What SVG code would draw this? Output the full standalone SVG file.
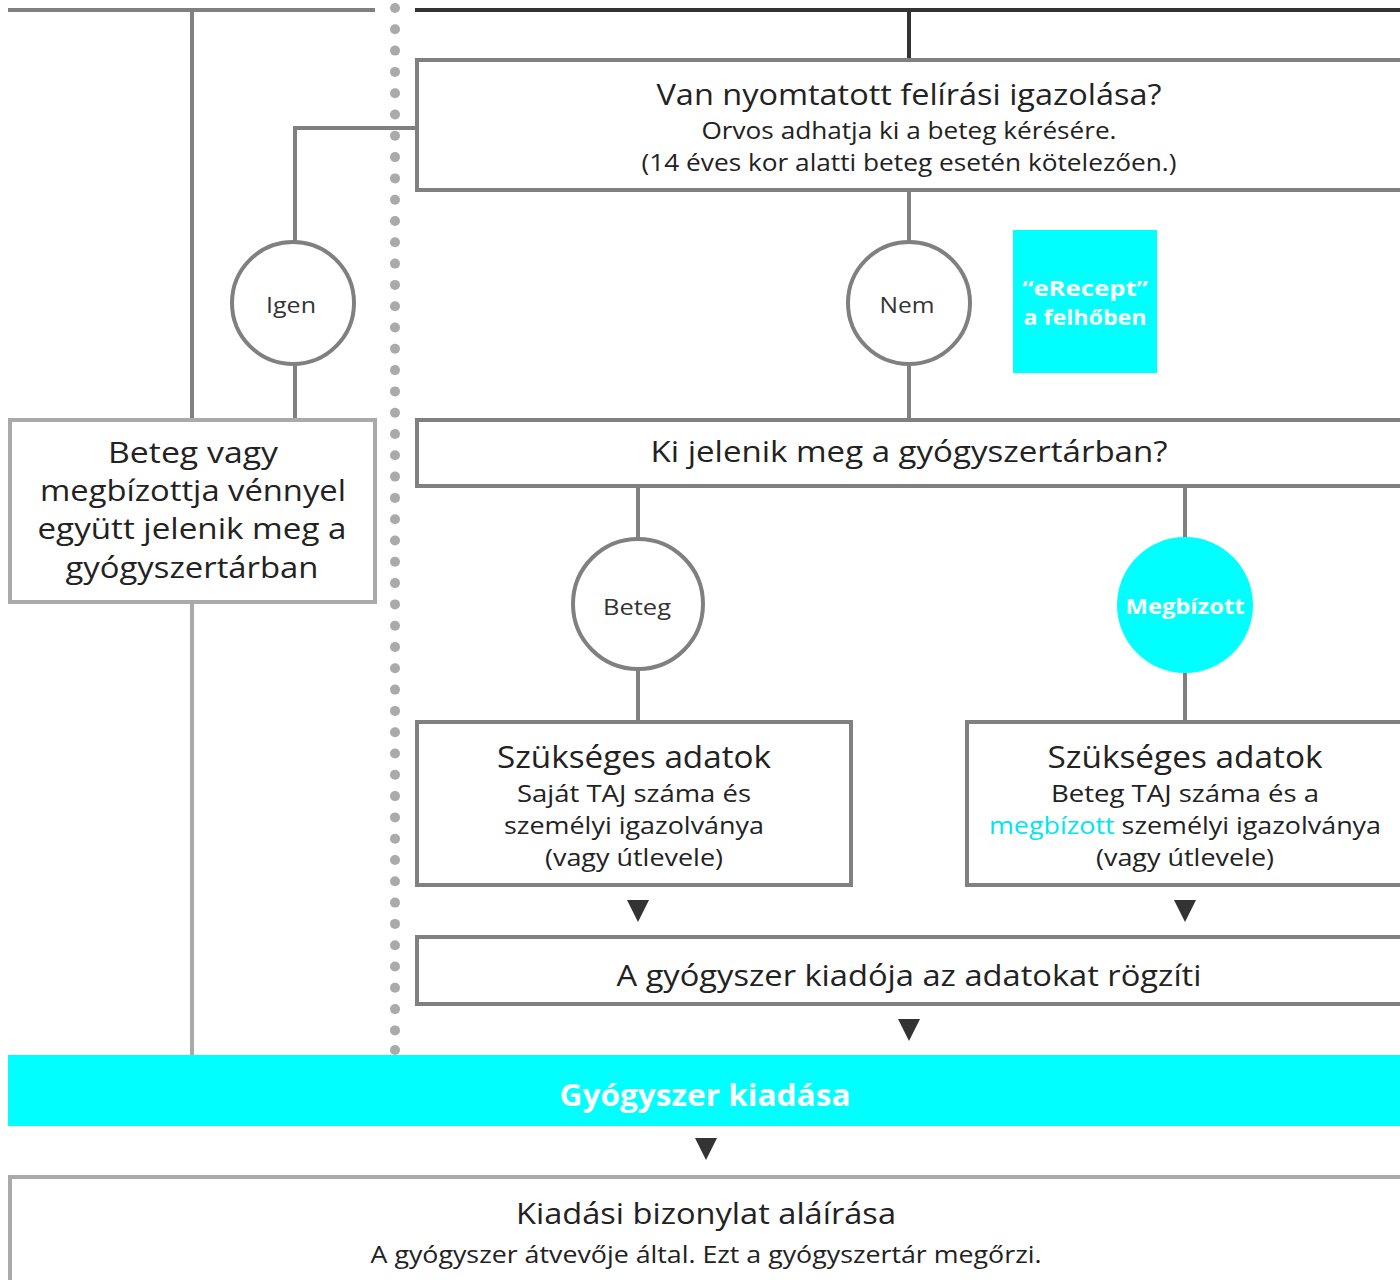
<svg xmlns="http://www.w3.org/2000/svg" width="1400" height="1280" viewBox="0 0 1400 1280">
<defs>
<style>
.box{fill:#fff;stroke:#808080;stroke-width:4}
.boxl{fill:#fff;stroke:#aaa;stroke-width:4}
.ln{stroke:#808080;stroke-width:4;fill:none}
.lnl{stroke:#aaa;stroke-width:4;fill:none}
.lnd{stroke:#333;stroke-width:4;fill:none}
.circ{fill:#fff;stroke:#808080;stroke-width:4}
.t{font-family:"Open Sans","Noto Sans",sans-serif;fill:#222;text-anchor:middle}
.h{font-size:29px;font-weight:500}
.s{font-size:23px}
.c{font-size:22px;fill:#333}
.w{font-family:"Open Sans","Noto Sans",sans-serif;fill:#fff;font-weight:bold;text-anchor:middle}
.tri{fill:#333}
.dot{fill:#aaa}
</style>
</defs>
<rect x="0" y="0" width="1400" height="1280" fill="#fff"/>
<g id="connectors">
<line class="ln" x1="8" y1="10" x2="375" y2="10"/>
<line class="lnd" x1="415" y1="10" x2="1400" y2="10"/>
<line class="ln" x1="192" y1="10" x2="192" y2="420"/>
<line class="lnl" x1="192" y1="602" x2="192" y2="1055"/>
<line class="lnd" x1="909" y1="10" x2="909" y2="60"/>
<polyline class="ln" points="417,128 295,128 295,242"/>
<line class="ln" x1="295" y1="364" x2="295" y2="420"/>
<line class="ln" x1="909" y1="190" x2="909" y2="242"/>
<line class="ln" x1="909" y1="364" x2="909" y2="420"/>
<line class="ln" x1="638" y1="486" x2="638" y2="540"/>
<line class="ln" x1="638" y1="670" x2="638" y2="722"/>
<line class="ln" x1="1185" y1="486" x2="1185" y2="540"/>
<line class="ln" x1="1185" y1="670" x2="1185" y2="722"/>
<polygon class="tri" points="627,900 649,900 638,922"/>
<polygon class="tri" points="1174,900 1196,900 1185,922"/>
<polygon class="tri" points="898,1019 920,1019 909,1041"/>
<polygon class="tri" points="695,1138 717,1138 706,1160"/>
<g id="dots">
<circle class="dot" cx="395" cy="8" r="5"/><circle class="dot" cx="395" cy="29.3" r="5"/><circle class="dot" cx="395" cy="50.6" r="5"/><circle class="dot" cx="395" cy="71.9" r="5"/><circle class="dot" cx="395" cy="93.2" r="5"/><circle class="dot" cx="395" cy="114.5" r="5"/><circle class="dot" cx="395" cy="135.8" r="5"/><circle class="dot" cx="395" cy="157.1" r="5"/><circle class="dot" cx="395" cy="178.4" r="5"/><circle class="dot" cx="395" cy="199.7" r="5"/><circle class="dot" cx="395" cy="221" r="5"/><circle class="dot" cx="395" cy="242.3" r="5"/><circle class="dot" cx="395" cy="263.6" r="5"/><circle class="dot" cx="395" cy="284.9" r="5"/><circle class="dot" cx="395" cy="306.2" r="5"/><circle class="dot" cx="395" cy="327.5" r="5"/><circle class="dot" cx="395" cy="348.8" r="5"/><circle class="dot" cx="395" cy="370.1" r="5"/><circle class="dot" cx="395" cy="391.4" r="5"/><circle class="dot" cx="395" cy="412.7" r="5"/><circle class="dot" cx="395" cy="434" r="5"/><circle class="dot" cx="395" cy="455.3" r="5"/><circle class="dot" cx="395" cy="476.6" r="5"/><circle class="dot" cx="395" cy="497.9" r="5"/><circle class="dot" cx="395" cy="519.2" r="5"/><circle class="dot" cx="395" cy="540.5" r="5"/><circle class="dot" cx="395" cy="561.8" r="5"/><circle class="dot" cx="395" cy="583.1" r="5"/><circle class="dot" cx="395" cy="604.4" r="5"/><circle class="dot" cx="395" cy="625.7" r="5"/><circle class="dot" cx="395" cy="647" r="5"/><circle class="dot" cx="395" cy="668.3" r="5"/><circle class="dot" cx="395" cy="689.6" r="5"/><circle class="dot" cx="395" cy="710.9" r="5"/><circle class="dot" cx="395" cy="732.2" r="5"/><circle class="dot" cx="395" cy="753.5" r="5"/><circle class="dot" cx="395" cy="774.8" r="5"/><circle class="dot" cx="395" cy="796.1" r="5"/><circle class="dot" cx="395" cy="817.4" r="5"/><circle class="dot" cx="395" cy="838.7" r="5"/><circle class="dot" cx="395" cy="860" r="5"/><circle class="dot" cx="395" cy="881.3" r="5"/><circle class="dot" cx="395" cy="902.6" r="5"/><circle class="dot" cx="395" cy="923.9" r="5"/><circle class="dot" cx="395" cy="945.2" r="5"/><circle class="dot" cx="395" cy="966.5" r="5"/><circle class="dot" cx="395" cy="987.8" r="5"/><circle class="dot" cx="395" cy="1009.1" r="5"/><circle class="dot" cx="395" cy="1030.4" r="5"/><circle class="dot" cx="395" cy="1050" r="5"/>
</g>
</g>
<g id="q1">
<rect class="box" x="417" y="60" width="990" height="130"/>
<text class="t h" x="909" y="105" textLength="505" lengthAdjust="spacingAndGlyphs">Van nyomtatott felírási igazolása?</text>
<text class="t s" x="909" y="139" textLength="415" lengthAdjust="spacingAndGlyphs">Orvos adhatja ki a beteg kérésére.</text>
<text class="t s" x="909" y="171" textLength="535" lengthAdjust="spacingAndGlyphs">(14 éves kor alatti beteg esetén kötelezően.)</text>
</g>
<g id="igen">
<circle class="circ" cx="293" cy="303" r="61"/>
<text class="t c" x="291" y="313" textLength="50" lengthAdjust="spacingAndGlyphs">Igen</text>
</g>
<g id="nem">
<circle class="circ" cx="909" cy="303" r="61"/>
<text class="t c" x="907" y="313" textLength="55" lengthAdjust="spacingAndGlyphs">Nem</text>
</g>
<g id="erecept">
<rect x="1013" y="230" width="144" height="143" fill="#00ffff"/>
<text class="w" x="1085" y="296" font-size="22" textLength="126" lengthAdjust="spacingAndGlyphs">“eRecept”</text>
<text class="w" x="1085" y="325" font-size="22" textLength="123" lengthAdjust="spacingAndGlyphs">a felhőben</text>
</g>
<g id="left">
<rect class="boxl" x="10" y="420" width="365" height="182"/>
<text class="t h" x="193" y="463" textLength="170" lengthAdjust="spacingAndGlyphs">Beteg vagy</text>
<text class="t h" x="193" y="501" textLength="306" lengthAdjust="spacingAndGlyphs">megbízottja vénnyel</text>
<text class="t h" x="192" y="539" textLength="309" lengthAdjust="spacingAndGlyphs">együtt jelenik meg a</text>
<text class="t h" x="192" y="578" textLength="253" lengthAdjust="spacingAndGlyphs">gyógyszertárban</text>
</g>
<g id="q2">
<rect class="box" x="417" y="420" width="990" height="66"/>
<text class="t h" x="909" y="462" textLength="517" lengthAdjust="spacingAndGlyphs">Ki jelenik meg a gyógyszertárban?</text>
</g>
<g id="beteg">
<circle class="circ" cx="638" cy="604" r="65"/>
<text class="t c" x="637" y="615" textLength="68" lengthAdjust="spacingAndGlyphs">Beteg</text>
</g>
<g id="megbizott">
<circle cx="1185" cy="605" r="68" fill="#00ffff"/>
<text class="w" x="1185" y="614" font-size="22" textLength="119" lengthAdjust="spacingAndGlyphs">Megbízott</text>
</g>
<g id="data1">
<rect class="box" x="417" y="722" width="434" height="163"/>
<text class="t" x="634" y="768" font-size="31" font-weight="500" textLength="274" lengthAdjust="spacingAndGlyphs">Szükséges adatok</text>
<text class="t s" x="634" y="802" textLength="234" lengthAdjust="spacingAndGlyphs">Saját TAJ száma és</text>
<text class="t s" x="634" y="834" textLength="260" lengthAdjust="spacingAndGlyphs">személyi igazolványa</text>
<text class="t s" x="634" y="866" textLength="178" lengthAdjust="spacingAndGlyphs">(vagy útlevele)</text>
</g>
<g id="data2">
<rect class="box" x="967" y="722" width="440" height="163"/>
<text class="t" x="1185" y="768" font-size="31" font-weight="500" textLength="275" lengthAdjust="spacingAndGlyphs">Szükséges adatok</text>
<text class="t s" x="1185" y="802" textLength="268" lengthAdjust="spacingAndGlyphs">Beteg TAJ száma és a</text>
<text class="t s" x="1185" y="834" textLength="392" lengthAdjust="spacingAndGlyphs"><tspan fill="#00e5ee">megbízott</tspan> személyi igazolványa</text>
<text class="t s" x="1185" y="866" textLength="178" lengthAdjust="spacingAndGlyphs">(vagy útlevele)</text>
</g>
<g id="record">
<rect class="box" x="417" y="937" width="990" height="67"/>
<text class="t h" x="909" y="986" textLength="585" lengthAdjust="spacingAndGlyphs">A gyógyszer kiadója az adatokat rögzíti</text>
</g>
<g id="dispense">
<rect x="8" y="1055" width="1392" height="71" fill="#00ffff"/>
<text class="w" x="705" y="1106" font-size="30" textLength="291" lengthAdjust="spacingAndGlyphs">Gyógyszer kiadása</text>
</g>
<g id="sign">
<rect class="boxl" x="10" y="1177" width="1400" height="110"/>
<text class="t h" x="706" y="1224" textLength="380" lengthAdjust="spacingAndGlyphs">Kiadási bizonylat aláírása</text>
<text class="t s" x="706" y="1263" textLength="671" lengthAdjust="spacingAndGlyphs">A gyógyszer átvevője által. Ezt a gyógyszertár megőrzi.</text>
</g>
</svg>
